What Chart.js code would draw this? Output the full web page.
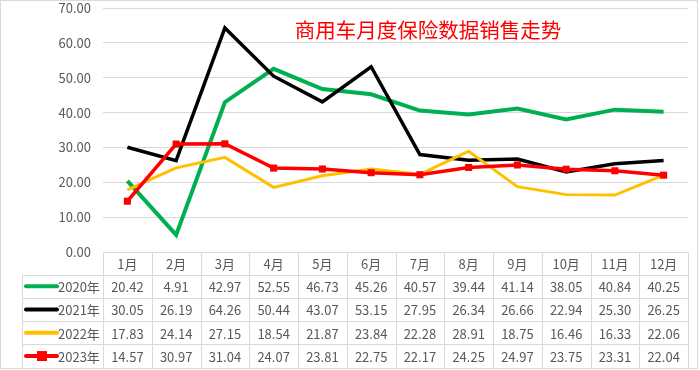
<!DOCTYPE html>
<html>
<head>
<meta charset="utf-8">
<script src="https://cdn.jsdelivr.net/npm/chart.js@4"></script>
<style>
html,body{margin:0;padding:0;background:#fff;}
canvas{display:block;}
</style>
</head>
<body>
<canvas id="c" width="700" height="370"></canvas>
<script>
const months = ['1月','2月','3月','4月','5月','6月','7月','8月','9月','10月','11月','12月'];
const seriesNames = ['2020年','2021年','2022年','2023年'];
const s2020 = [20.42,4.91,42.97,52.55,46.73,45.26,40.57,39.44,41.14,38.05,40.84,40.25];
const s2021 = [30.05,26.19,64.26,50.44,43.07,53.15,27.95,26.34,26.66,22.94,25.30,26.25];
const s2022 = [17.83,24.14,27.15,18.54,21.87,23.84,22.28,28.91,18.75,16.46,16.33,22.06];
const s2023 = [14.57,30.97,31.04,24.07,23.81,22.75,22.17,24.25,24.97,23.75,23.31,22.04];
const yTicks = [0,10,20,30,40,50,60,70];
const titleText = '商用车月度保险数据销售走势';

const FONT = '"Noto Sans CJK SC", "Noto Sans", sans-serif';
const colors = ['#00B050','#000000','#FFC000','#FF0000'];
const seriesData = [s2020, s2021, s2022, s2023];

const tablePlugin = {
  id: 'tablePlugin',
  afterDraw(chart) {
    const ctx = chart.ctx;
    const ca = chart.chartArea;
    const n = months.length;
    const w = (ca.right - ca.left) / n;
    const top = ca.bottom;
    const headH = 22.5;
    const rowH = 23.3;
    const legLeft = 22;
    ctx.save();
    ctx.fillStyle = '#FF0000';
    ctx.font = '20.5px ' + FONT;
    ctx.textAlign = 'center';
    ctx.textBaseline = 'middle';
    ctx.fillText(titleText, 428, 30);

    ctx.strokeStyle = '#d9d9d9';
    ctx.lineWidth = 1;
    const rowsTop = top + headH;
    const bottom = rowsTop + rowH * seriesNames.length;
    ctx.beginPath();
    ctx.moveTo(ca.left, Math.round(top) + 0.5); ctx.lineTo(ca.right, Math.round(top) + 0.5);
    for (let r = 0; r <= seriesNames.length; r++) {
      const y = Math.round(rowsTop + r * rowH) + 0.5;
      ctx.moveTo(legLeft, y); ctx.lineTo(ca.right, y);
    }
    for (let i = 0; i <= n; i++) {
      const x = Math.round(ca.left + i * w) + 0.5;
      ctx.moveTo(x, top); ctx.lineTo(x, bottom);
    }
    ctx.moveTo(legLeft + 0.5, rowsTop); ctx.lineTo(legLeft + 0.5, bottom);
    ctx.stroke();

    ctx.fillStyle = '#595959';
    ctx.font = '13px ' + FONT;
    ctx.textAlign = 'center';
    ctx.textBaseline = 'middle';
    for (let i = 0; i < n; i++) {
      ctx.fillText(months[i], ca.left + (i + 0.5) * w, top + headH / 2 + 1);
    }
    for (let r = 0; r < seriesNames.length; r++) {
      const yc = rowsTop + (r + 0.5) * rowH + 1;
      const vals = seriesData[r];
      ctx.fillStyle = '#595959';
      ctx.textAlign = 'center';
      for (let i = 0; i < n; i++) {
        ctx.fillText(vals[i].toFixed(2), ca.left + (i + 0.5) * w, yc);
      }
      ctx.strokeStyle = colors[r];
      ctx.lineWidth = 4;
      ctx.lineCap = 'round';
      ctx.beginPath();
      ctx.moveTo(26, yc - 1); ctx.lineTo(57, yc - 1);
      ctx.stroke();
      if (r === 3) {
        ctx.fillStyle = colors[r];
        ctx.fillRect(37, yc - 6, 10, 10);
      }
      ctx.fillStyle = '#595959';
      ctx.textAlign = 'left';
      ctx.fillText(seriesNames[r], 58, yc);
    }
    ctx.strokeStyle = '#d9d9d9';
    ctx.lineWidth = 1;
    ctx.strokeRect(0.5, 0.5, 697, 368);
    ctx.restore();
  }
};

new Chart(document.getElementById('c'), {
  type: 'line',
  data: {
    labels: months,
    datasets: [
      { label: seriesNames[0], data: s2020, borderColor: colors[0], backgroundColor: colors[0], borderWidth: 4, pointRadius: 0, order: 3 },
      { label: seriesNames[1], data: s2021, borderColor: colors[1], backgroundColor: colors[1], borderWidth: 3.5, pointRadius: 0, order: 2 },
      { label: seriesNames[2], data: s2022, borderColor: colors[2], backgroundColor: colors[2], borderWidth: 3, pointRadius: 0, order: 1 },
      { label: seriesNames[3], data: s2023, borderColor: colors[3], backgroundColor: colors[3], borderWidth: 3.5, pointRadius: 5, pointStyle: 'rect', pointBorderWidth: 0, order: 0 }
    ]
  },
  options: {
    responsive: false,
    animation: false,
    devicePixelRatio: 1,
    layout: { padding: { top: 0, right: 12, bottom: 118, left: 0 } },
    elements: { line: { tension: 0, borderJoinStyle: 'miter', borderCapStyle: 'butt' } },
    plugins: { legend: { display: false }, title: { display: false }, tooltip: { enabled: false } },
    scales: {
      x: { display: false, offset: true },
      y: {
        min: 0, max: 70,
        afterFit(scale) { scale.width = 103; scale.paddingTop = 8; scale.paddingBottom = 0; },
        afterBuildTicks(scale) { scale.ticks = yTicks.map(v => ({ value: v })); },
        border: { display: false },
        grid: { color: '#d9d9d9', drawTicks: false, lineWidth: 1 },
        ticks: { padding: 12, color: '#595959', font: { family: FONT, size: 13 }, callback: v => Number(v).toFixed(2) }
      }
    }
  },
  plugins: [tablePlugin]
});
</script>
</body>
</html>
